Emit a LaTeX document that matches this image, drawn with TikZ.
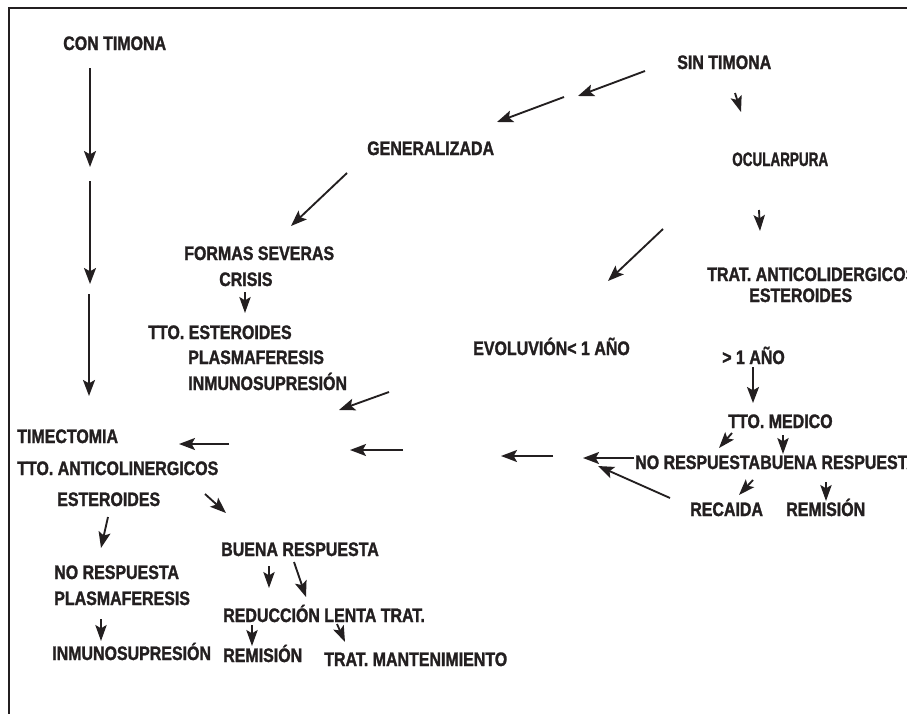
\documentclass[tikz,border=0pt]{standalone}
\usepackage{fontspec}
\newfontfamily\lbfont{Liberation Sans}[UprightFont={* Bold}, FakeStretch=0.82, FakeBold=1.4]
\usetikzlibrary{arrows.meta}
\definecolor{ink}{HTML}{231F20}
\begin{document}
\begin{tikzpicture}[x=0.75pt,y=-0.75pt,
  lbl/.style={anchor=base west, inner sep=0pt, text=ink, font=\lbfont\fontsize{14.6pt}{17pt}\selectfont},
  arr/.style={draw=ink, line width=1.4pt, -{Stealth[length=12pt,width=9pt,inset=2.5pt]}},
  sarr/.style={draw=ink, line width=1.4pt, -{Stealth[length=12pt,width=8.5pt,inset=2.5pt]}},
  frame/.style={draw=ink, line width=1.8pt}]
\useasboundingbox (0,0) rectangle (907,714);
\fill[white] (0,0) rectangle (907,714);
% frame
\coordinate (ftr) at (910,8);
\coordinate (ftl) at (9,8);
\coordinate (fbl) at (9,716);
\draw[frame] (ftr) -- (ftl) -- (fbl);

% nodes
\node[lbl] (contimona) at (63,50) {CON TIMONA};
\node[lbl] (sintimona) at (677,69) {SIN TIMONA};
\node[lbl] (generalizada) at (367,155) {GENERALIZADA};
\node[lbl] (ocular) at (732,166) {\scalebox{0.845}[1]{OCULARPURA}};
\node[lbl] (formas) at (184,260) {FORMAS SEVERAS};
\node[lbl] (crisis) at (219,286) {CRISIS};
\node[lbl] (ttoester) at (148,339) {TTO. ESTEROIDES};
\node[lbl] (plasmaA) at (188,364) {PLASMAFERESIS};
\node[lbl] (inmunoA) at (188,390) {INMUNOSUPRESIÓN};
\node[lbl] (tratanti) at (707,281) {TRAT. ANTICOLIDERGICOS};
\node[lbl] (esterB) at (749,302) {ESTEROIDES};
\node[lbl] (evol) at (473,355) {EVOLUVIÓN< 1 AÑO};
\node[lbl] (mayor) at (722,364) {> 1 AÑO};
\node[lbl] (timectomia) at (17,443) {TIMECTOMIA};
\node[lbl] (ttoanti) at (17,475) {TTO. ANTICOLINERGICOS};
\node[lbl] (esterA) at (57,506) {ESTEROIDES};
\node[lbl] (ttomedico) at (728,428) {TTO. MEDICO};
\node[lbl] (norespB) at (635,469) {NO RESPUESTA};
\node[lbl] (buenaB) at (760,469) {BUENA RESPUESTA};
\node[lbl] (recaida) at (690,516) {RECAIDA};
\node[lbl] (remisionB) at (786,516) {REMISIÓN};
\node[lbl] (buenaA) at (221,556) {BUENA RESPUESTA};
\node[lbl] (norespA) at (54,579) {NO RESPUESTA};
\node[lbl] (plasmaB) at (54,605) {PLASMAFERESIS};
\node[lbl] (reduccion) at (223,622) {REDUCCIÓN LENTA TRAT.};
\node[lbl] (inmunoB) at (52,660) {INMUNOSUPRESIÓN};
\node[lbl] (remisionA) at (223,662) {REMISIÓN};
\node[lbl] (manten) at (324,666) {TRAT. MANTENIMIENTO};

% arrow end points
\coordinate (a1s) at (90,68);   \coordinate (a1e) at (90,167);
\coordinate (a2s) at (90,181);  \coordinate (a2e) at (90,284);
\coordinate (a3s) at (89,294);  \coordinate (a3e) at (89,396);
\coordinate (a4s) at (645,71);  \coordinate (a4e) at (578,96);
\coordinate (a5s) at (564,97);  \coordinate (a5e) at (497,122);
\coordinate (a6s) at (735,93);  \coordinate (a6e) at (741,112);
\coordinate (a7s) at (347,173); \coordinate (a7e) at (291,226);
\coordinate (a8s) at (245,292); \coordinate (a8e) at (245,313);
\coordinate (a9s) at (759,210); \coordinate (a9e) at (760,231);
\coordinate (a10s) at (663,229); \coordinate (a10e) at (608,281);
\coordinate (a11s) at (389,392); \coordinate (a11e) at (339,410);
\coordinate (a12s) at (229,444); \coordinate (a12e) at (179,444);
\coordinate (a13s) at (403,450); \coordinate (a13e) at (350,450);
\coordinate (a14s) at (553,456); \coordinate (a14e) at (501,456);
\coordinate (a15s) at (634,458); \coordinate (a15e) at (583,458);
\coordinate (a16s) at (670,498); \coordinate (a16e) at (598,466);
\coordinate (a17s) at (753,367); \coordinate (a17e) at (753,403);
\coordinate (a18s) at (732,433); \coordinate (a18e) at (719,448);
\coordinate (a19s) at (783,435); \coordinate (a19e) at (783,454);
\coordinate (a20s) at (753,480); \coordinate (a20e) at (739,495);
\coordinate (a21s) at (826,482); \coordinate (a21e) at (826,501);
\coordinate (a22s) at (205,494); \coordinate (a22e) at (226,513);
\coordinate (a23s) at (108,517); \coordinate (a23e) at (101,548);
\coordinate (a24s) at (269,566); \coordinate (a24e) at (269,588);
\coordinate (a25s) at (294,562); \coordinate (a25e) at (306,597);
\coordinate (a26s) at (101,619); \coordinate (a26e) at (101,641);
\coordinate (a27s) at (252,625); \coordinate (a27e) at (252,646);
\coordinate (a28s) at (337,624); \coordinate (a28e) at (345,642);

% long arrows
\foreach \i in {1,2,3,4,5,7,10,11,12,13,14,15,16,17,22,23,25}
  \draw[arr] (a\i s) -- (a\i e);
% short arrows
\foreach \i in {6,8,9,18,19,20,21,24,26,27,28}
  \draw[sarr] (a\i s) -- (a\i e);
\end{tikzpicture}
\end{document}
